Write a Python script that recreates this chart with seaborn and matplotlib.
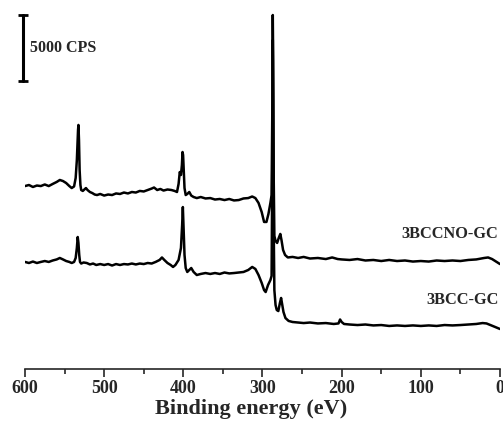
import numpy as np
import pandas as pd
import matplotlib
matplotlib.use("Agg")
import matplotlib.pyplot as plt
import seaborn as sns

# Survey XPS spectra (binding energy in eV, intensity in CPS, offset already applied)
energy_bccno = [600, 595, 590, 585, 580, 575, 570, 565, 560, 556, 552, 548, 544, 541, 538, 536, 534.5, 533,
                532.5, 531.8, 531, 530, 529, 527, 525, 523, 521, 518, 515, 512, 509, 505, 500, 495, 490, 485,
                480, 475, 470, 465, 460, 455, 450, 445, 440, 437, 433, 429, 425, 420, 415, 411, 408, 406,
                404.5, 403, 401.8, 401, 400.3, 399.5, 398.5, 397, 395, 392.5, 390, 387, 383, 378, 372, 366,
                360, 354, 348, 342, 336, 330, 324, 318, 313, 309, 305, 301, 298, 295, 292.5, 290, 288.5,
                287.5, 287, 286.5, 285.8, 285, 283.5, 281.5, 279.5, 277.5, 276, 274, 271.5, 268, 262, 255,
                248, 240, 230, 220, 212, 205, 200, 190, 180, 170, 160, 150, 140, 130, 120, 110, 100, 90,
                80, 70, 60, 50, 40, 30, 20, 15, 10, 5, 0]
counts_bccno = [13860, 13940, 13790, 13900, 13860, 13980, 13860, 14020, 14170, 14320, 14240, 14090, 13860,
                13710, 13830, 14470, 15830, 18110, 18490, 17350, 15080, 13940, 13560, 13490, 13600, 13710,
                13560, 13410, 13330, 13220, 13180, 13260, 13140, 13220, 13180, 13300, 13260, 13370, 13300,
                13410, 13370, 13490, 13450, 13560, 13670, 13750, 13560, 13640, 13520, 13600, 13560, 13490,
                13410, 14020, 14920, 14700, 15460, 16440, 16210, 15080, 13710, 13180, 13260, 13410, 13140,
                13030, 12950, 13030, 12920, 12950, 12840, 12880, 12800, 12880, 12770, 12800, 12920, 12950,
                13070, 12950, 12580, 11890, 11140, 11140, 11740, 12580, 13180, 20380, 26820, 23410, 14320,
                10080, 9700, 9550, 9920, 10230, 9770, 9020, 8640, 8450, 8490, 8410, 8490, 8370, 8410, 8330,
                8450, 8330, 8300, 8260, 8330, 8220, 8260, 8180, 8260, 8180, 8220, 8140, 8180, 8140, 8220,
                8180, 8220, 8180, 8260, 8300, 8410, 8450, 8330, 8140, 7950]

energy_bcc = [600, 595, 590, 585, 580, 575, 570, 565, 560, 556, 552, 548, 544, 541, 538, 536, 534.5, 533.4,
              532.5, 531.5, 530.5, 529, 526, 522, 518, 514, 510, 505, 500, 495, 490, 485, 480, 475, 470, 465,
              460, 455, 450, 445, 440, 435, 430, 427, 424, 420, 416, 413, 410, 406, 403, 401.5, 400.6, 399.8,
              398.5, 397, 395, 392.5, 390, 387, 383, 378, 372, 366, 360, 354, 348, 342, 336, 330, 324, 318,
              313, 309, 305, 301, 298, 296, 293, 290, 288.5, 287.5, 287, 286.5, 285.8, 285, 283.5, 282, 280,
              278, 276.5, 275, 273.5, 271, 267, 262, 255, 248, 240, 230, 220, 210, 204, 202, 200, 197, 190,
              180, 170, 160, 150, 140, 130, 120, 110, 100, 90, 80, 70, 60, 50, 40, 30, 22, 17, 12, 6, 0]
counts_bcc = [8110, 8030, 8140, 8030, 8110, 8180, 8110, 8220, 8300, 8410, 8300, 8180, 8110, 8030, 8110, 8410,
              9170, 10000, 9550, 8640, 8110, 7990, 8070, 8030, 7920, 7990, 7880, 7950, 7880, 7950, 7840, 7950,
              7880, 7950, 7920, 7990, 7920, 7990, 7950, 8030, 7990, 8110, 8260, 8450, 8260, 8030, 7880, 7730,
              7880, 8260, 9170, 10910, 12270, 10910, 8640, 7650, 7350, 7500, 7650, 7350, 7120, 7200, 7270,
              7200, 7270, 7200, 7310, 7240, 7270, 7310, 7350, 7500, 7730, 7580, 7120, 6520, 5980, 5830, 6360,
              6740, 7050, 16590, 24930, 20380, 10530, 5980, 4850, 4470, 4390, 5000, 5380, 4850, 4320, 3860,
              3640, 3560, 3520, 3480, 3520, 3450, 3480, 3410, 3450, 3750, 3560, 3410, 3370, 3330, 3370, 3300,
              3330, 3260, 3300, 3260, 3300, 3260, 3300, 3260, 3330, 3300, 3330, 3370, 3410, 3480, 3450, 3330,
              3180, 3030]

sample_names = ["3BCCNO-GC", "3BCC-GC"]
x_ticks = [600, 500, 400, 300, 200, 100, 0]
scale_bar_cps = 5000
scale_bar_bottom = 21840

sns.set_style("ticks")
plt.rcParams["font.family"] = ["Liberation Serif", "DejaVu Serif"]
plt.rcParams["font.weight"] = "bold"

fig = plt.figure(figsize=(5.03, 4.29), dpi=100)
ax = fig.add_axes([0.0497, 0.1399, 0.9443, 0.8368])

df = pd.concat([
    pd.DataFrame({"energy": energy_bccno, "counts": counts_bccno, "sample": sample_names[0]}),
    pd.DataFrame({"energy": energy_bcc, "counts": counts_bcc, "sample": sample_names[1]}),
])
sns.lineplot(data=df, x="energy", y="counts", units="sample", estimator=None, sort=False,
             color="black", linewidth=1.8, ax=ax, legend=False)

ax.set_xlim(600, 0)
ax.set_ylim(0, 27200)
ax.set_xticks(x_ticks)
ax.set_xticks(np.arange(550, 0, -100), minor=True)
ax.set_yticks([])
ax.tick_params(axis="x", which="major", direction="out", length=6, width=1.2, labelsize=13, pad=2)
ax.tick_params(axis="x", which="minor", direction="out", length=3.5, width=1.2)
for lab in ax.get_xticklabels():
    lab.set_fontweight("bold")
sns.despine(ax=ax, left=True, right=True, top=True)
ax.spines["bottom"].set_linewidth(1.2)
ax.set_xlabel("Binding energy (eV)", fontsize=16, fontweight="bold")
ax.xaxis.set_label_coords(0.477, -0.085)
ax.set_ylabel("")

# curve labels
ax.text(2, 10230, sample_names[0], ha="right", va="center", fontsize=11.8, fontweight="bold")
ax.text(2, 5230, sample_names[1], ha="right", va="center", fontsize=11.8, fontweight="bold")

# intensity scale bar
ax.plot([602, 602], [scale_bar_bottom, scale_bar_bottom + scale_bar_cps], color="black",
        linewidth=2.2, marker="_", markersize=7, markeredgewidth=2, clip_on=False)
ax.text(594, scale_bar_bottom + scale_bar_cps / 2, f"{scale_bar_cps} CPS", ha="left", va="center",
        fontsize=11.5, fontweight="bold")

fig.savefig("out.png", dpi=100)
